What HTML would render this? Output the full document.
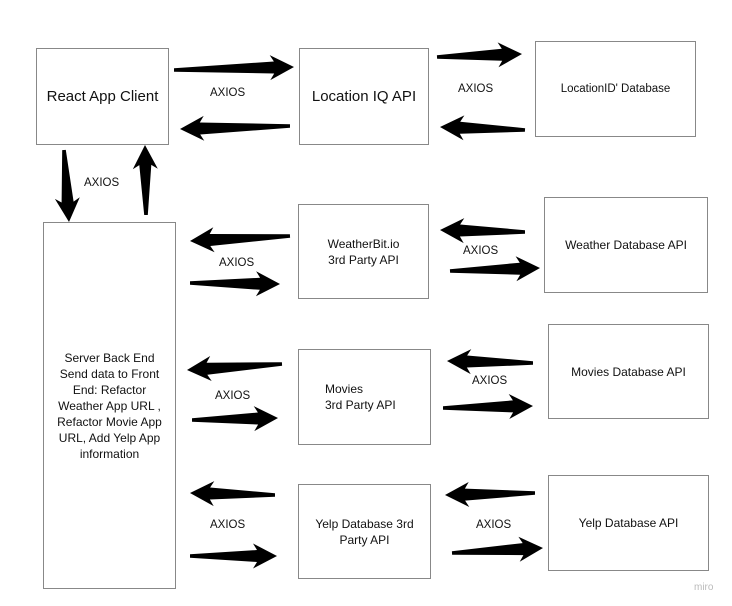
<!DOCTYPE html>
<html><head><meta charset="utf-8"><style>
html,body{margin:0;padding:0;background:#fff;}
body{width:732px;height:606px;position:relative;overflow:hidden;font-family:"Liberation Sans",sans-serif;color:#111;}
.b{position:absolute;border:1.5px solid #888;box-sizing:border-box;display:flex;align-items:center;justify-content:center;text-align:center;font-size:12px;line-height:16px;}
.t{position:absolute;font-size:11.5px;}
svg{position:absolute;left:0;top:0;}
</style></head><body>
<div class="b" style="left:36px;top:48px;width:133px;height:97px;font-size:15px;">React App Client</div>
<div class="b" style="left:299px;top:48px;width:130px;height:97px;font-size:15px;">Location IQ API</div>
<div class="b" style="left:535px;top:41px;width:161px;height:96px;font-size:11.5px;">LocationID' Database</div>
<div class="b" style="left:43px;top:222px;width:133px;height:367px;padding:0 6px;">Server Back End Send data to Front End: Refactor Weather App URL , Refactor Movie App URL, Add Yelp App information</div>
<div class="b" style="left:298px;top:204px;width:131px;height:95px;">WeatherBit.io<br>3rd Party API</div>
<div class="b" style="left:544px;top:197px;width:164px;height:96px;">Weather Database API</div>
<div class="b" style="left:298px;top:349px;width:133px;height:96px;justify-content:flex-start;padding-left:26px;text-align:left;">Movies<br>3rd Party API</div>
<div class="b" style="left:548px;top:324px;width:161px;height:95px;">Movies Database API</div>
<div class="b" style="left:298px;top:484px;width:133px;height:95px;">Yelp Database 3rd<br>Party API</div>
<div class="b" style="left:548px;top:475px;width:161px;height:96px;">Yelp Database API</div>
<div class="t" style="left:210px;top:87px;">AXIOS</div>
<div class="t" style="left:458px;top:83px;">AXIOS</div>
<div class="t" style="left:84px;top:177px;">AXIOS</div>
<div class="t" style="left:219px;top:257px;">AXIOS</div>
<div class="t" style="left:463px;top:245px;">AXIOS</div>
<div class="t" style="left:215px;top:390px;">AXIOS</div>
<div class="t" style="left:472px;top:375px;">AXIOS</div>
<div class="t" style="left:210px;top:519px;">AXIOS</div>
<div class="t" style="left:476px;top:519px;">AXIOS</div>
<div class="t" style="left:694px;top:582px;color:#bbb;font-size:10px;">miro</div>
<svg width="732" height="606" id="s"></svg>
<script>
var A=[[174,70,294,67],[290,126,180,129],[437,57,522,54],[525,130,440,127],[64,150,69,222],[146,215,145,145],
[290,236,190,241],[190,283,280,284],[525,232,440,230],[450,271,540,268],[282,364,187,370],[192,420,278,418],
[533,363,447,361],[443,408,533,406],[275,495,190,493],[190,556,277,556],[535,493,445,495],[452,553,543,548]];
var s="";
A.forEach(function(a){var x1=a[0],y1=a[1],x2=a[2],y2=a[3],dx=x2-x1,dy=y2-y1,L=Math.hypot(dx,dy),ux=dx/L,uy=dy/L,nx=-uy,ny=ux,H=20;
var bx=x2-ux*H,by=y2-uy*H;function p(x,y,w){return (x+nx*w).toFixed(1)+","+(y+ny*w).toFixed(1);}
s+='<polygon fill="#000" points="'+[p(x1,y1,1.8),p(bx,by,6),p(bx-ux*4,by-uy*4,12.5),p(x2,y2,0),p(bx-ux*4,by-uy*4,-12.5),p(bx,by,-6),p(x1,y1,-1.8)].join(" ")+'"/>';});
document.getElementById("s").innerHTML=s;
</script>
</body></html>
